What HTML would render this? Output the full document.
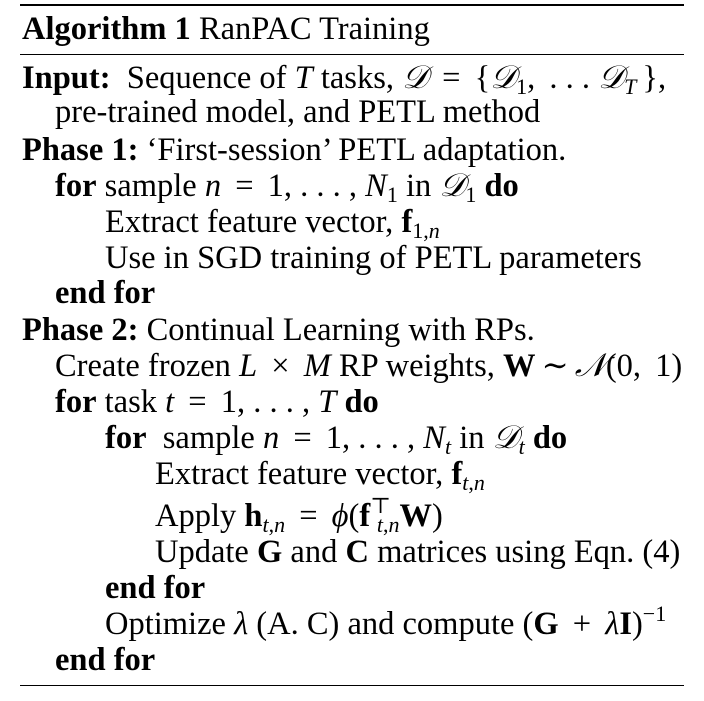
<!DOCTYPE html>
<html><head><meta charset="utf-8"><style>
body{margin:0;width:704px;height:701px;background:#fff;position:relative;overflow:hidden;font-family:"Liberation Serif","DejaVu Serif",serif;color:#000;}
.r{position:absolute;left:20px;width:664px;background:#000;}
.l{position:absolute;font-size:32.5px;line-height:34px;white-space:nowrap;}
b{font-weight:bold;}
i{font-style:italic;}
sub{font-size:22px;vertical-align:-6px;line-height:0;}
sup{font-size:22px;vertical-align:13px;line-height:0;}
.s{display:inline-block;width:6px;}
</style></head><body>
<div class="r" style="top:4px;height:2px"></div>
<div class="l" style="left:22px;top:12px"><b>Algorithm 1</b> RanPAC Training</div>
<div class="r" style="top:54px;height:1px"></div>
<div class="l" style="left:22px;top:61px"><b>Input:</b>&nbsp; Sequence of <i>T</i> tasks, <i>𝒟</i><span class="s"></span> = <span class="s"></span>{<i>𝒟</i><sub>1</sub>, <span class="s"></span>. . . <i>𝒟</i><sub><i>T</i></sub><span class="s"></span>},</div>
<div class="l" style="left:55px;top:95px">pre-trained model, and PETL method</div>
<div class="l" style="left:22px;top:133px"><b>Phase 1:</b> ‘First-session’ PETL adaptation.</div>
<div class="l" style="left:55px;top:169px"><b>for</b> sample <i>n</i><span class="s"></span> = <span class="s"></span>1, . . . , <i>N</i><sub>1</sub> in <i>𝒟</i><sub>1</sub> <b>do</b></div>
<div class="l" style="left:105px;top:205px">Extract feature vector, <b>f</b><sub>1,<i>n</i></sub></div>
<div class="l" style="left:105px;top:241px">Use in SGD training of PETL parameters</div>
<div class="l" style="left:55px;top:276px"><b>end for</b></div>
<div class="l" style="left:22px;top:313px"><b>Phase 2:</b> Continual Learning with RPs.</div>
<div class="l" style="left:55px;top:349px">Create frozen <i>L</i><span class="s"></span> × <span class="s"></span><i>M</i> RP weights, <b>W</b><span class="s"></span>∼<span class="s"></span><i>𝒩</i>(0,<span class="s"></span> 1)</div>
<div class="l" style="left:55px;top:385px"><b>for</b> task <i>t</i><span class="s"></span> = <span class="s"></span>1, . . . , <i>T</i> <b>do</b></div>
<div class="l" style="left:105px;top:421px"><b>for</b>&nbsp; sample <i>n</i><span class="s"></span> = <span class="s"></span>1, . . . , <i>N</i><sub><i>t</i></sub> in <i>𝒟</i><sub><i>t</i></sub> <b>do</b></div>
<div class="l" style="left:155px;top:457px">Extract feature vector, <b>f</b><sub><i>t</i>,<i>n</i></sub></div>
<div class="l" style="left:155px;top:499px">Apply <b>h</b><sub><i>t</i>,<i>n</i></sub><span class="s"></span> = <span class="s"></span><i>ϕ</i>(<b>f</b><sup>⊤</sup><sub style="margin-left:-14px"><i>t</i>,<i>n</i></sub><b>W</b>)</div>
<div class="l" style="left:155px;top:535px">Update <b>G</b> and <b>C</b> matrices using Eqn. (4)</div>
<div class="l" style="left:105px;top:571px"><b>end for</b></div>
<div class="l" style="left:105px;top:607px">Optimize <i>λ</i> (A. C) and compute (<b>G</b><span class="s"></span> + <span class="s"></span><i>λ</i><b>I</b>)<sup>−1</sup></div>
<div class="l" style="left:55px;top:643px"><b>end for</b></div>
<div class="r" style="top:685px;height:1px"></div>
</body></html>
